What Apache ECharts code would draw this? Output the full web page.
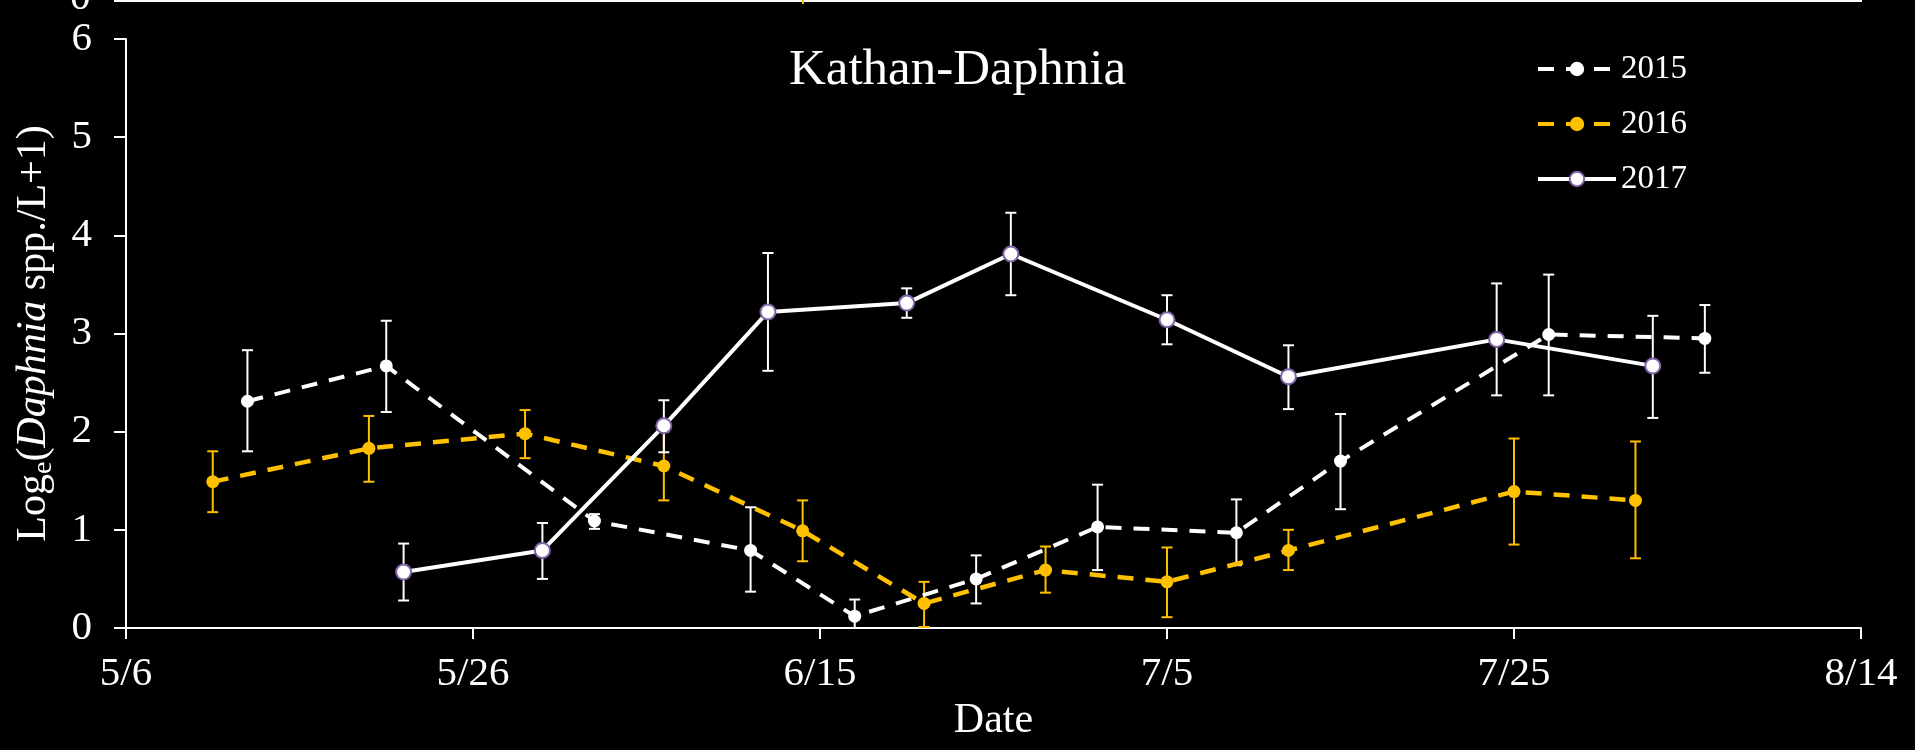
<!DOCTYPE html>
<html>
<head>
<meta charset="utf-8">
<script src="https://cdn.jsdelivr.net/npm/echarts@6/dist/echarts.min.js"></script>
<style>
html,body{margin:0;padding:0;background:#000;}
#chart{width:1915px;height:750px;}
</style>
</head>
<body>
<div id="chart"></div>
<script>
// ---- data ----
const xTickLabels = ['5/6', '5/26', '6/15', '7/5', '7/25', '8/14'];
const yTicks = [0, 1, 2, 3, 4, 5, 6];

const dates2015 = ['5/13', '5/21', '6/2', '6/11', '6/17', '6/24', '7/1', '7/9', '7/15', '7/27', '8/5'];
const mean2015  = [2.31, 2.67, 1.09, 0.79, 0.12, 0.50, 1.03, 0.97, 1.70, 2.99, 2.95];
const low2015   = [1.80, 2.20, 1.01, 0.37, 0.00, 0.25, 0.59, 0.64, 1.21, 2.37, 2.60];
const high2015  = [2.83, 3.13, 1.16, 1.23, 0.29, 0.74, 1.46, 1.31, 2.18, 3.60, 3.29];

const dates2016 = ['5/11', '5/20', '5/29', '6/6', '6/14', '6/21', '6/28', '7/5', '7/12', '7/25', '8/1'];
const mean2016  = [1.49, 1.83, 1.98, 1.65, 0.99, 0.25, 0.59, 0.47, 0.79, 1.39, 1.30];
const low2016   = [1.18, 1.49, 1.73, 1.30, 0.68, 0.01, 0.36, 0.11, 0.59, 0.85, 0.71];
const high2016  = [1.80, 2.16, 2.22, 2.00, 1.30, 0.47, 0.83, 0.82, 1.00, 1.93, 1.90];

const dates2017 = ['5/22', '5/30', '6/6', '6/12', '6/20', '6/26', '7/5', '7/12', '7/24', '8/2'];
const mean2017  = [0.57, 0.79, 2.06, 3.22, 3.31, 3.81, 3.14, 2.56, 2.94, 2.67];
const low2017   = [0.28, 0.50, 1.79, 2.62, 3.16, 3.39, 2.89, 2.23, 2.37, 2.14];
const high2017  = [0.86, 1.07, 2.32, 3.82, 3.46, 4.23, 3.39, 2.88, 3.51, 3.18];

const seriesNames = ['2015', '2016', '2017'];
const titleText = 'Kathan-Daphnia';

// ---- helpers ----
const FONT = "'Liberation Serif', 'Times New Roman', 'DejaVu Serif', serif";
const ORANGE = '#FFC000';
const PURPLE = '#7F63A6';
const START = Date.UTC(2015, 4, 6);
function dayOffset(md) {
  const [m, d] = md.split('/').map(Number);
  return Math.round((Date.UTC(2015, m - 1, d) - START) / 86400000);
}
function pts(dates, vals) { return dates.map((d, i) => [dayOffset(d), vals[i]]); }
function errs(dates, lo, hi) { return dates.map((d, i) => [dayOffset(d), lo[i], hi[i]]); }

function errRender(color) {
  return function (params, api) {
    const x = api.value(0), lo = api.value(1), hi = api.value(2);
    const a = api.coord([x, lo]), b = api.coord([x, hi]);
    const w = 5.5;
    const st = { stroke: color, lineWidth: 2 };
    return {
      type: 'group',
      children: [
        { type: 'line', shape: { x1: a[0], y1: a[1], x2: b[0], y2: b[1] }, style: st },
        { type: 'line', shape: { x1: b[0] - w, y1: b[1], x2: b[0] + w, y2: b[1] }, style: st },
        { type: 'line', shape: { x1: a[0] - w, y1: a[1], x2: a[0] + w, y2: a[1] }, style: st }
      ]
    };
  };
}

const chart = echarts.init(document.getElementById('chart'), null, { renderer: 'canvas' });
const option = {
  backgroundColor: '#000',
  animation: false,
  title: {
    text: titleText,
    left: 'center',
    top: 40,
    textStyle: { color: '#fff', fontFamily: FONT, fontSize: 51, fontWeight: 'normal' }
  },
  legend: {
    data: seriesNames,
    orient: 'vertical',
    left: 1536,
    top: 50,
    padding: 0,
    itemWidth: 78,
    itemHeight: 18,
    itemGap: 17,
    lineStyle: { width: 4 },
    textStyle: { color: '#fff', fontFamily: FONT, fontSize: 33, lineHeight: 38 }
  },
  grid: { left: 126, right: 54, top: 39, bottom: 122, containLabel: false },
  xAxis: {
    type: 'value',
    min: 0, max: 100, interval: 20,
    name: 'Date',
    nameLocation: 'middle',
    nameGap: 72,
    nameTextStyle: { color: '#fff', fontFamily: FONT, fontSize: 42 },
    axisLine: { show: true, lineStyle: { color: '#fff', width: 2 } },
    axisTick: { show: true, length: 11, lineStyle: { color: '#fff', width: 2 } },
    axisLabel: {
      color: '#fff', fontFamily: FONT, fontSize: 41, margin: 26,
      formatter: v => xTickLabels[Math.round(v / 20)]
    },
    splitLine: { show: false }
  },
  yAxis: {
    type: 'value',
    min: yTicks[0], max: yTicks[yTicks.length - 1], interval: 1,
    name: 'Log{sub|e}({it|Daphnia} spp./L+1)',
    nameLocation: 'middle',
    nameRotate: 90,
    nameGap: 68,
    nameTextStyle: {
      color: '#fff', fontFamily: FONT, fontSize: 42, lineHeight: 48,
      rich: {
        sub: { color: '#fff', fontFamily: FONT, fontSize: 28, lineHeight: 28, verticalAlign: 'bottom' },
        it: { color: '#fff', fontFamily: FONT, fontSize: 42, fontStyle: 'italic', lineHeight: 48 }
      }
    },
    axisLine: { show: true, lineStyle: { color: '#fff', width: 2 } },
    axisTick: { show: true, length: 12, lineStyle: { color: '#fff', width: 2 } },
    axisLabel: { color: '#fff', fontFamily: FONT, fontSize: 41, margin: 34 },
    splitLine: { show: false }
  },
  graphic: [
    { type: 'line', shape: { x1: 114, y1: 1, x2: 1862, y2: 1 }, style: { stroke: '#fff', lineWidth: 2 }, z: 10 },
    { type: 'line', shape: { x1: 803, y1: 0, x2: 803, y2: 4 }, style: { stroke: ORANGE, lineWidth: 2 }, z: 11 },
    { type: 'text', left: 70, top: -22, style: { text: '0', fill: '#fff', font: '41px ' + FONT }, z: 10 }
  ],
  series: [
    { name: 'err2015', type: 'custom', renderItem: errRender('#fff'), data: errs(dates2015, low2015, high2015), z: 1, silent: true },
    { name: 'err2016', type: 'custom', renderItem: errRender(ORANGE), data: errs(dates2016, low2016, high2016), z: 1, silent: true },
    { name: 'err2017', type: 'custom', renderItem: errRender('#fff'), data: errs(dates2017, low2017, high2017), z: 1, silent: true },
    {
      name: seriesNames[0], type: 'line', data: pts(dates2015, mean2015), z: 3,
      symbol: 'circle', symbolSize: 13,
      itemStyle: { color: '#fff', borderColor: '#fff', borderWidth: 0 },
      lineStyle: { color: '#fff', width: 4, type: [16, 12] }
    },
    {
      name: seriesNames[1], type: 'line', data: pts(dates2016, mean2016), z: 3,
      symbol: 'circle', symbolSize: 13,
      itemStyle: { color: ORANGE, borderColor: ORANGE, borderWidth: 0 },
      lineStyle: { color: ORANGE, width: 4.5, type: [16, 12] }
    },
    {
      name: seriesNames[2], type: 'line', data: pts(dates2017, mean2017), z: 4,
      symbol: 'circle', symbolSize: 15,
      itemStyle: { color: '#fff', borderColor: PURPLE, borderWidth: 2 },
      lineStyle: { color: '#fff', width: 4, type: 'solid' }
    }
  ]
};
chart.setOption(option);
</script>
</body>
</html>
